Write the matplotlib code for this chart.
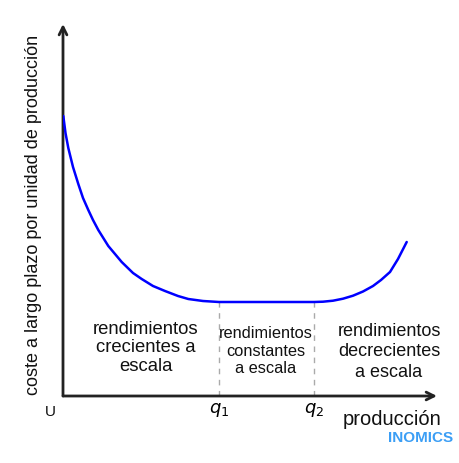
import matplotlib
matplotlib.use('Agg')
import matplotlib.pyplot as plt

plt.rcParams['font.family'] = ['Liberation Sans', 'DejaVu Sans']

# curva de coste medio a largo plazo
cost_x = [0.3, 2.5, 5.3, 10, 15.3, 20, 25.3, 30, 35.3, 45.3, 58.7, 70, 78.7, 90, 102, 115, 125.3, 140, 156,
          200, 251, 260, 270, 280, 290, 300, 310, 318, 327, 335, 343.7]
cost_y = [280, 263, 248, 229, 212, 198, 186, 176, 166, 150, 134, 123, 117, 110, 105, 100, 97, 95, 94,
          94, 94, 94.3, 95.3, 97.3, 100.3, 104.5, 110, 116, 124, 137, 154]

q1 = 156
q2 = 251
y_min = 94

region_labels = ['rendimientos\ncrecientes a\nescala',
                 'rendimientos\nconstantes\na escala',
                 'rendimientos\ndecrecientes\na escala']
region_x = [83, 202.5, 326]

fig = plt.figure(figsize=(4.6, 4.64), dpi=100)
ax = fig.add_axes([63/460, 67/464, 374/460, 372/464])
ax.set_xlim(0, 374)
ax.set_ylim(0, 372)
ax.axis('off')

# ejes con flechas
ax.annotate('', xy=(374, 0), xytext=(0, 0),
            arrowprops=dict(arrowstyle='->', color='#222222', lw=2, shrinkA=0, shrinkB=0,
                            mutation_scale=14), annotation_clip=False)
ax.annotate('', xy=(0, 372), xytext=(0, 0),
            arrowprops=dict(arrowstyle='->', color='#222222', lw=2, shrinkA=0, shrinkB=0,
                            mutation_scale=14), annotation_clip=False)

ax.plot(cost_x, cost_y, color='#0000ff', lw=1.8, solid_capstyle='round',
        solid_joinstyle='round', zorder=3)

for q in [q1, q2]:
    ax.plot([q, q], [0, y_min], color='#aaaaaa', lw=1, ls=(0, (4, 4)), zorder=1)

ax.text(region_x[0], 49, region_labels[0], ha='center', va='center', fontsize=13.3,
        linespacing=1.15, color='#111111')
ax.text(region_x[1], 46, region_labels[1], ha='center', va='center', fontsize=11.8,
        linespacing=1.2, color='#111111')
ax.text(region_x[2], 45, region_labels[2], ha='center', va='center', fontsize=13,
        linespacing=1.25, color='#111111')

ax.text(q1, -13, r'$q_1$', ha='center', va='center', fontsize=13)
ax.text(q2, -13, r'$q_2$', ha='center', va='center', fontsize=13)
ax.text(-13, -15, 'U', ha='center', va='center', fontsize=11, color='#111111')

ax.text(329, -23, 'producción', ha='center', va='center', fontsize=14.5, color='#111111')
ax.text(358, -41, 'INOMICS', ha='center', va='center', fontsize=11, fontweight='bold',
        color='#3b9ef5')

ax.text(-29, 182, 'coste a largo plazo por unidad de producción', rotation=90,
        ha='center', va='center', fontsize=13, color='#111111')

fig.savefig('out.png', dpi=100)
